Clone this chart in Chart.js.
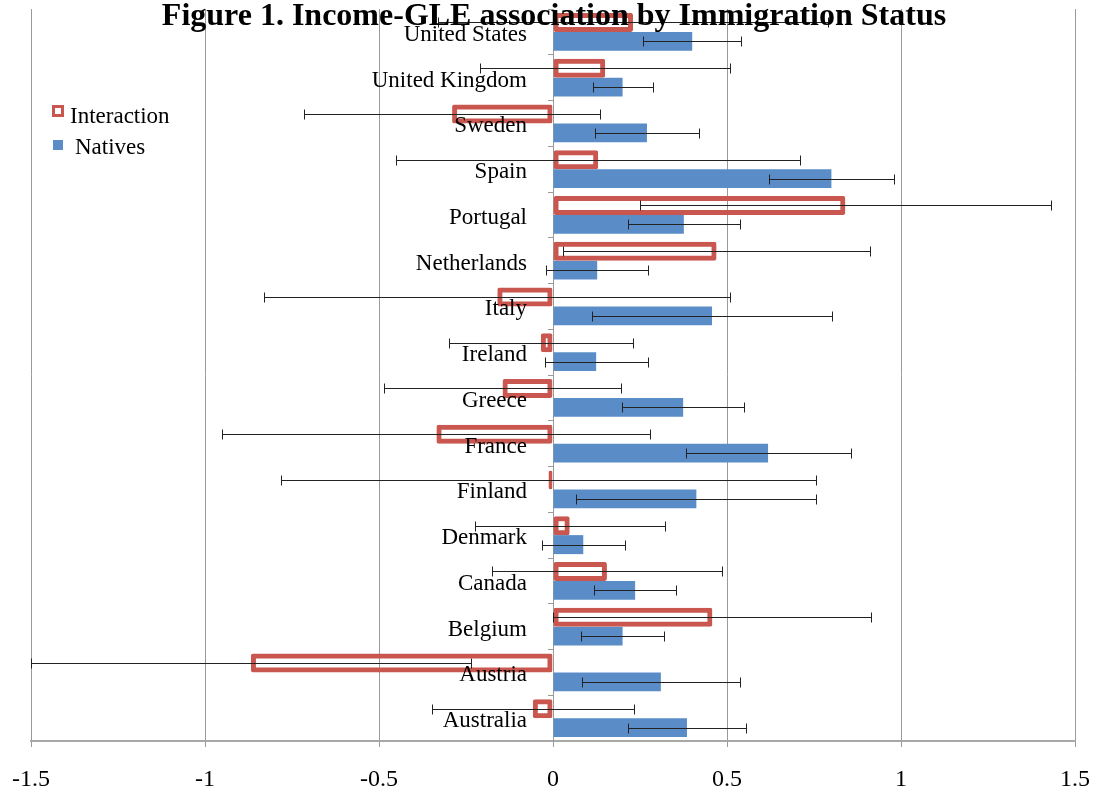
<!DOCTYPE html>
<html>
<head>
<meta charset="utf-8">
<script src="https://cdn.jsdelivr.net/npm/chart.js@4/dist/chart.umd.min.js"></script>
<style>
  body { margin: 0; background: #fff; }
  #wrap { position: relative; width: 1098px; height: 798px; }
  #title {
    position: absolute; left: 554px; top: -4px; transform: translateX(-50%);
    font: bold 32px "Liberation Serif", "Times New Roman", serif; white-space: nowrap; color: #000;
  }
  #legend { position: absolute; left: 0; top: 0; font: 23px "Liberation Serif", serif; color: #000; }
  #legend i, #legend span { position: absolute; display: block; box-sizing: border-box; white-space: nowrap; }
</style>
</head>
<body>
<div id="wrap">
  <canvas id="chart"></canvas>
  <div id="title">Figure 1. Income-GLE association by Immigration Status</div>
  <div id="legend">
    <i style="left:52px;top:105px;width:12px;height:12px;border:3px solid #c9574f;background:#fff"></i>
    <span style="left:70px;top:103px">Interaction</span>
    <i style="left:53px;top:140px;width:10px;height:10px;background:#5a8dc8"></i>
    <span style="left:75px;top:134px">Natives</span>
  </div>
</div>
<script>
const countries = ['United States', 'United Kingdom', 'Sweden', 'Spain', 'Portugal', 'Netherlands', 'Italy',
  'Ireland', 'Greece', 'France', 'Finland', 'Denmark', 'Canada', 'Belgium', 'Austria', 'Australia'];
const interaction = [0.23, 0.15, -0.29, 0.13, 0.84, 0.47, -0.16, -0.035, -0.145, -0.335, -0.013, 0.048, 0.155, 0.458, -0.868, -0.058];
const interactionErr = [0.56, 0.36, 0.425, 0.58, 0.59, 0.44, 0.67, 0.265, 0.34, 0.615, 0.77, 0.273, 0.33, 0.457, 0.632, 0.29];
const natives = [0.40, 0.20, 0.27, 0.80, 0.376, 0.127, 0.457, 0.124, 0.374, 0.618, 0.412, 0.087, 0.236, 0.20, 0.31, 0.385];
const nativesErr = [0.14, 0.086, 0.15, 0.18, 0.16, 0.146, 0.345, 0.148, 0.175, 0.237, 0.345, 0.12, 0.117, 0.12, 0.228, 0.17];
const xTicks = [-1.5, -1, -0.5, 0, 0.5, 1, 1.5];

const errors = [interactionErr, nativesErr];
const serif = '"Liberation Serif", "Times New Roman", serif';

// error bars, placed with the x scale
const errorBars = {
  id: 'errorBars',
  afterDatasetsDraw(chart) {
    const ctx = chart.ctx, xs = chart.scales.x;
    ctx.save();
    ctx.strokeStyle = '#222';
    ctx.lineWidth = 1;
    chart.data.datasets.forEach((ds, i) => {
      chart.getDatasetMeta(i).data.forEach((bar, j) => {
        const v = ds.data[j], e = errors[i][j];
        const x1 = Math.round(xs.getPixelForValue(v - e)) + 0.5;
        const x2 = Math.round(xs.getPixelForValue(v + e)) + 0.5;
        const y = Math.round(bar.y) + 0.5;
        ctx.beginPath();
        ctx.moveTo(x1, y); ctx.lineTo(x2, y);
        ctx.moveTo(x1, y - 5); ctx.lineTo(x1, y + 5);
        ctx.moveTo(x2, y - 5); ctx.lineTo(x2, y + 5);
        ctx.stroke();
      });
    });
    ctx.restore();
  }
};

// country names sit left of the zero line, on top of the bars
const countryLabels = {
  id: 'countryLabels',
  afterDraw(chart) {
    const ctx = chart.ctx, xs = chart.scales.x, ys = chart.scales.y;
    const x = xs.getPixelForValue(0) - 26;
    ctx.save();
    ctx.font = '23px ' + serif;
    ctx.fillStyle = '#000';
    ctx.textAlign = 'right';
    ctx.textBaseline = 'middle';
    countries.forEach((c, i) => ctx.fillText(c, x, ys.getPixelForTick(i) + 3));
    ctx.restore();
  }
};

new Chart(document.getElementById('chart'), {
  type: 'bar',
  data: {
    labels: countries,
    datasets: [
      { label: 'Interaction', data: interaction, backgroundColor: 'rgba(255,255,255,0)',
        borderColor: '#c9574f', borderWidth: 5, borderSkipped: false, borderRadius: 2 },
      { label: 'Natives', data: natives, backgroundColor: '#5a8dc8', borderWidth: 0 }
    ]
  },
  options: {
    indexAxis: 'y',
    responsive: true,
    maintainAspectRatio: false,
    animation: false,
    layout: { padding: { left: 31, right: 23, top: 9, bottom: 4 } },
    datasets: { bar: { categoryPercentage: 0.83, barPercentage: 1 } },
    plugins: { legend: { display: false }, title: { display: false }, tooltip: { enabled: false } },
    scales: {
      x: {
        min: -1.5, max: 1.5,
        afterBuildTicks: s => { s.ticks = xTicks.map(v => ({ value: v })); },
        afterFit: s => { s.paddingLeft = 0; s.paddingRight = 0; s.height = 53; },
        grid: { color: '#9a9a9a', lineWidth: 1, tickLength: 6 },
        border: { color: '#a8a8a8', width: 2 },
        ticks: { color: '#000', font: { family: serif, size: 24 }, padding: 18, maxRotation: 0,
          callback: v => String(v) }
      },
      y: {
        position: { x: 0 },
        afterFit: s => { s.paddingTop = 0; s.paddingBottom = 0; },
        grid: { drawOnChartArea: false, tickLength: 5, color: '#9a9a9a', offset: true },
        border: { color: '#9a9a9a', width: 1 },
        ticks: { display: false }
      }
    }
  },
  plugins: [errorBars, countryLabels]
});
</script>
</body>
</html>
